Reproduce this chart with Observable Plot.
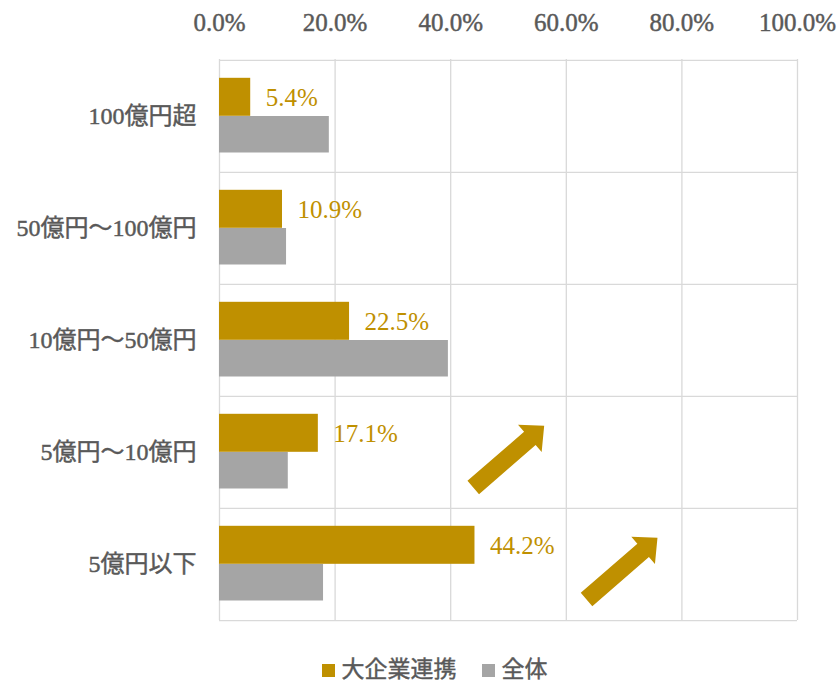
<!DOCTYPE html>
<html>
<head>
<meta charset="utf-8">
<script src="https://cdn.jsdelivr.net/npm/d3@7"></script>
<script src="https://cdn.jsdelivr.net/npm/@observablehq/plot@0.6"></script>
<style>
  body { margin: 0; background: #fff; }
  #chart svg { display: block; }
  #chart g[aria-label="y-axis tick label"] text,
  #chart g[aria-label="x-axis tick label"] text { stroke: #595959; stroke-width: 0.45px; }
  .legend { display: flex; justify-content: center; align-items: center; gap: 7px;
    padding-left: 48px; margin-top: 13px; font-family: "Liberation Serif", "Noto Sans CJK JP", serif;
    font-size: 23px; color: #595959; line-height: 24px; -webkit-text-stroke: 0.4px #595959; }
  .legend .sw { width: 13px; height: 13px; display: inline-block; }
  .legend .item { display: flex; align-items: center; gap: 7px; margin-right: 18px; }
</style>
</head>
<body>
<div id="chart"></div>
<div class="legend" id="legend"></div>
<script>
const categories = ["100億円超", "50億円～100億円", "10億円～50億円", "5億円～10億円", "5億円以下"];
const seriesNames = ["大企業連携", "全体"];
const largeCorp = [5.4, 10.9, 22.5, 17.1, 44.2];
const overall = [19.0, 11.6, 39.6, 11.9, 18.0];
const xTicks = [0, 20, 40, 60, 80, 100];
const arrowX = [43.9, 63.5];
const arrowCat = ["5億円～10億円", "5億円以下"];

const GOLD = "#BF9000", GRAY = "#A5A5A5", TEXT = "#595959", GRID = "#D9D9D9";
const FONT = "'Liberation Serif', 'Noto Sans CJK JP', serif";

const goldData = categories.map((c, i) => ({cat: c, value: largeCorp[i]}));
const grayData = categories.map((c, i) => ({cat: c, value: overall[i]}));
const arrows = arrowX.map((x, i) => ({x, cat: arrowCat[i]}));

const W = 839, H = 645, mT = 59, mB = 25, mL = 219, mR = 42;
const band = (H - mT - mB) / categories.length;

const arrowShape = {
  draw(context, l, r) {
    const w = 8.8, hw = 18, hl = 19;
    context.moveTo(-w, 0);
    context.lineTo(-w, -l + hl);
    context.lineTo(-hw, -l + hl);
    context.lineTo(0, -l);
    context.lineTo(hw, -l + hl);
    context.lineTo(w, -l + hl);
    context.lineTo(w, 0);
    context.closePath();
  }
};

const chart = Plot.plot({
  width: W, height: H,
  marginTop: mT, marginBottom: mB, marginLeft: mL, marginRight: mR,
  style: {fontFamily: FONT, fontSize: "24px", color: TEXT, background: "#fff"},
  x: {domain: [0, 100]},
  y: {domain: categories, padding: 0},
  marks: [
    Plot.ruleX(xTicks, {stroke: GRID, strokeWidth: 1.3}),
    Plot.ruleY(categories, {stroke: GRID, strokeWidth: 1.3, dy: -band / 2}),
    Plot.ruleY([categories[categories.length - 1]], {stroke: GRID, strokeWidth: 1.3, dy: band / 2}),
    Plot.barX(goldData, {x: "value", y: "cat", fill: GOLD, insetTop: 17.8, insetBottom: band - 56}),
    Plot.barX(grayData, {x: "value", y: "cat", fill: GRAY, insetTop: 56, insetBottom: 19.5}),
    Plot.text(goldData, {x: "value", y: "cat", text: d => d.value.toFixed(1) + "%", textAnchor: "start",
      dx: 15, dy: -19, fill: GOLD, fontSize: 25}),
    Plot.vector(arrows, {x: "x", y: "cat", length: 94, rotate: 49, anchor: "start", shape: arrowShape,
      fill: GOLD, stroke: "none", dy: 35}),
    Plot.axisX(xTicks, {anchor: "top", tickSize: 0, tickPadding: 29, tickFormat: d => d.toFixed(1) + "%",
      fontSize: 25, fill: TEXT, label: null}),
    Plot.axisY({tickSize: 0, tickPadding: 23, fontSize: 24, fill: TEXT, label: null})
  ]
});
document.getElementById("chart").append(chart);

const legend = document.getElementById("legend");
seriesNames.forEach((name, i) => {
  const item = document.createElement("span");
  item.className = "item";
  const sw = document.createElement("span");
  sw.className = "sw";
  sw.style.background = i === 0 ? GOLD : GRAY;
  const t = document.createElement("span");
  t.textContent = name;
  item.append(sw, t);
  legend.append(item);
});
</script>
</body>
</html>
